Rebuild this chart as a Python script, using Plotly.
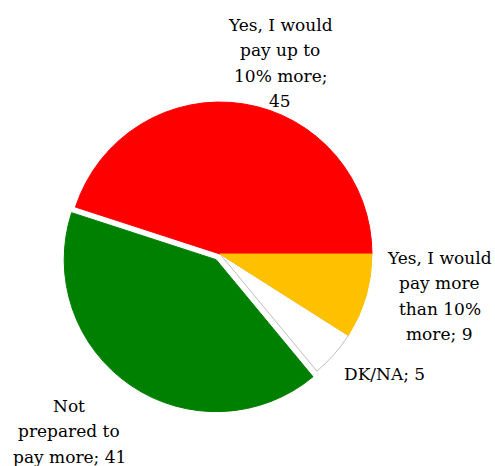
import plotly.graph_objects as go

labels = ["Yes, I would pay up to 10% more", "Not prepared to pay more", "DK/NA", "Yes, I would pay more than 10% more"]
values = [45, 41, 5, 9]
colors = ["#FF0000", "#008000", "#FFFFFF", "#FFC000"]
line_colors = ["#FF0000", "#008000", "#BFBFBF", "#FFC000"]
pulls = [0, 0.045, 0, 0]
label_lines = [["Yes, I would", "pay up to", "10% more;", "45"],
               ["Not", "prepared to", "pay more; 41"],
               ["DK/NA; 5"],
               ["Yes, I would", "pay more", "than 10%", "more; 9"]]
# label centre x (px) and first-line baseline (px from top)
label_anchor = [(280, 31), (69, 412), (384.5, 380), (439.5, 264)]
LINE_STEP = 25.3

W, H = 495, 466

fig = go.Figure(go.Pie(
    labels=labels, values=values, sort=False, direction="counterclockwise",
    rotation=-72, pull=pulls,
    marker=dict(colors=colors, line=dict(color=line_colors, width=1)),
    textinfo="none", hoverinfo="label+value", showlegend=False,
    domain=dict(x=[0.1236, 0.7653], y=[0.1141, 0.7957]),
))

for lines, (cx, b0) in zip(label_lines, label_anchor):
    for i, t in enumerate(lines):
        base = b0 + i * LINE_STEP
        mid = base - 6
        fig.add_annotation(text=t, x=cx / W, y=(H - mid) / H, xref="paper", yref="paper",
                           xanchor="center", yanchor="middle", align="center",
                           showarrow=False,
                           font=dict(family="DejaVu Serif", size=17, color="#000000"))

fig.update_layout(width=W, height=H, autosize=False,
                  margin=dict(l=0, r=0, t=0, b=0),
                  paper_bgcolor="white", plot_bgcolor="white")

fig.write_html("out.html")
